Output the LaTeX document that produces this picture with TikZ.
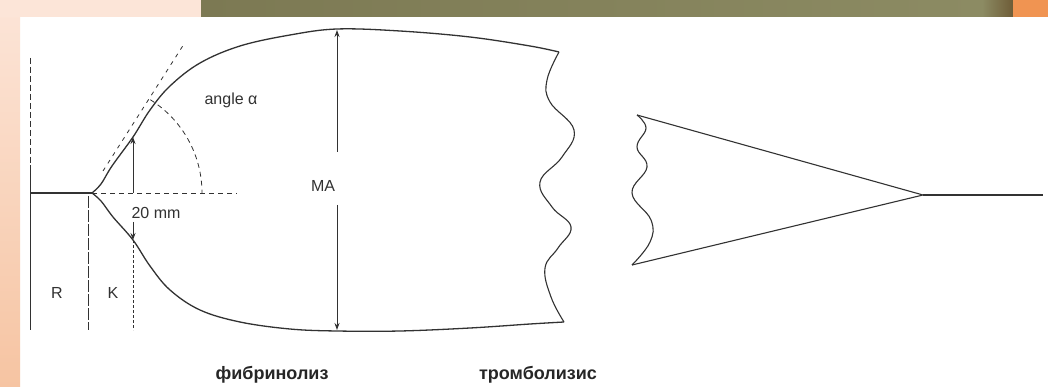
\documentclass[tikz,border=0pt]{standalone}
\usepackage{fontspec}
\setmainfont{Liberation Sans}
\definecolor{inkgray}{RGB}{50,50,50}
\definecolor{olivebar}{RGB}{124,121,83}
\definecolor{olivelight}{RGB}{140,139,99}
\definecolor{barbrown}{RGB}{110,92,55}
\definecolor{barorange}{RGB}{240,148,82}
\definecolor{peachtop}{RGB}{252,229,216}
\definecolor{peachbot}{RGB}{246,196,162}
\usetikzlibrary{arrows.meta,calc}

\begin{document}
\begin{tikzpicture}[
  x=1pt, y=-1pt,
  curve/.style={draw=inkgray, line width=1.3pt, line join=round},
  guide/.style={draw=inkgray, line width=0.8pt, dashed, dash pattern=on 6pt off 3pt},
  thinline/.style={draw=inkgray, line width=0.9pt},
  arrow/.style={-{Stealth[length=7pt,width=5pt]}, draw=inkgray, line width=0.9pt},
  lbl/.style={font=\fontsize{16}{18}\selectfont, text=inkgray, inner sep=1pt},
  caption/.style={font=\fontsize{18}{20}\selectfont\bfseries, text=black!85},
]
\useasboundingbox (0,0) rectangle (1048,387);

% Slide background
\fill[white] (0,0) rectangle (1048,387);
\shade[top color=peachtop, bottom color=peachbot] (0,0) rectangle (20,387);
\fill[peachtop] (0,0) rectangle (201,17);
\shade[left color=olivebar, right color=olivelight] (201,0) rectangle (982,17);
\shade[left color=olivelight, right color=barbrown] (982,0) rectangle (1013,17);
\fill[barorange] (1013,0) rectangle (1048,17);

% Key points
\coordinate (split) at (92,193);
\coordinate (kup) at (133,137);
\coordinate (kdown) at (133,240);
\coordinate (topcorner) at (559,52);
\coordinate (botcorner) at (564,322);

% Baseline and R / K markers
\draw[thinline] (30,165) -- (30,330);
\draw[guide] (30,58) -- (30,165);
\draw[curve] (30,193) -- (split);
\draw[thinline, dash pattern=on 12pt off 2pt] (88,196) -- (88,330);
\draw[guide, dash pattern=on 3pt off 2pt] (kdown) -- (133,330);

% Upper and lower trace
\draw[curve] plot[smooth, tension=0.6] coordinates {(92,193) (101,184) (112,166) (kup) (150,110) (170,86) (200,63) (240,46) (290,35) (337,29) (400,31) (470,37) (530,46) (topcorner)};
\draw[curve] plot[smooth, tension=0.6] coordinates {(92,193) (101,201) (113,217) (kdown) (150,266) (170,290) (200,310) (240,322) (290,329) (337,331) (400,331) (470,328) (530,324) (botcorner)};

% Torn edge
\draw[curve, line width=1.1pt] plot[smooth, tension=0.7] coordinates {(topcorner) (547,80) (550,102) (574,130) (562,157) (540,182) (552,207) (571,227) (558,248) (545,268) (551,297) (botcorner)};

% Lysis spindle
\coordinate (tl) at (637,115);
\coordinate (bl) at (632,265);
\node[inner sep=0pt] (tip) at (923,195) {};
\coordinate (tail) at (1043,195);
\draw[curve, line width=1.1pt] (tl) -- (tip.center) -- (bl);
\draw[curve, line width=1.1pt] plot[smooth, tension=0.7] coordinates {(tl) (646,128) (637,147) (647,167) (632,193) (651,220) (650,242) (bl)};
\draw[curve, line width=1.1pt] (tip.center) -- (tail);

% Angle alpha
\draw[guide, dash pattern=on 5pt off 4pt] (split) -- (237,193);
\draw[guide, dash pattern=on 4pt off 5pt] (103,171) -- (184,44);
\draw[guide, dash pattern=on 5pt off 4pt] ($(split)+(-58:110)$) arc[start angle=-58, end angle=0, radius=110];
\node[lbl] (alpha) at (231,100) {angle α};

% K arrows
\draw[arrow] (133,193) -- (kup);
\node[lbl] (twenty) at (156,213) {20 mm};
\draw[arrow] (133,222) -- (kdown);

% Amplitude
\node[lbl] (ma) at (323,186) {MA};
\coordinate (matop) at (337,30);
\coordinate (mabot) at (337,330);
\draw[arrow] (337,152) -- (matop);
\draw[arrow] (337,205) -- (mabot);

% Phase labels
\node[lbl] (rlab) at (57,293) {R};
\node[lbl] (klab) at (113,293) {K};
\node[caption] (fib) at (272,375) {фибринолиз};
\node[caption] (thr) at (538,375) {тромболизис};

\end{tikzpicture}
\end{document}
